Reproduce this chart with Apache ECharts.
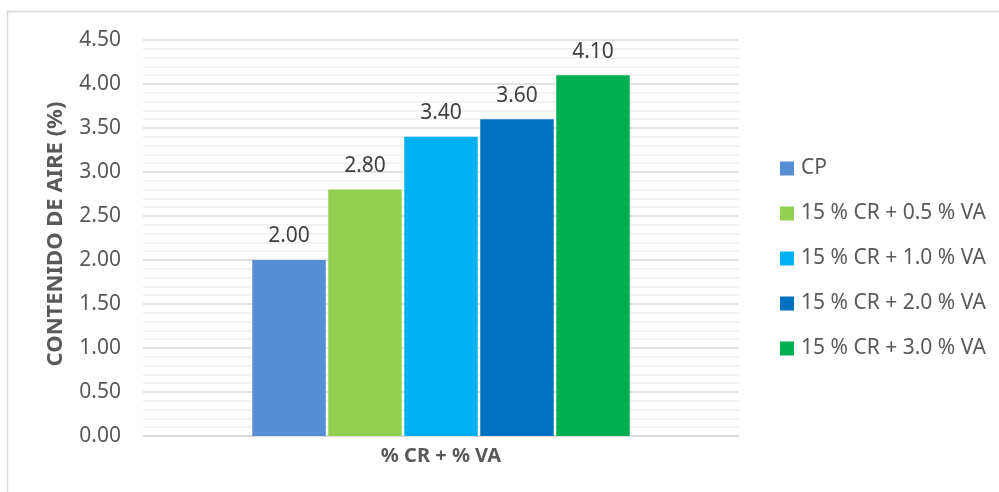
<!DOCTYPE html>
<html>
<head>
<meta charset="utf-8">
<script src="https://cdn.jsdelivr.net/npm/echarts@6/dist/echarts.min.js"></script>
<style>
  html, body { margin: 0; padding: 0; background: #ffffff; }
  #chart { width: 999px; height: 492px; }
</style>
</head>
<body>
<div id="chart"></div>
<script>
// Air content of each mix, one bar per mix inside a single category
const categories = ['% CR + % VA'];
const seriesNames = ['CP', '15 % CR + 0.5 % VA', '15 % CR + 1.0 % VA', '15 % CR + 2.0 % VA', '15 % CR + 3.0 % VA'];
const seriesValues = [2.00, 2.80, 3.40, 3.60, 4.10];
const seriesColors = ['#558ed5', '#92d050', '#00b0f0', '#0070c0', '#00b050'];
const yTicks = { min: 0, max: 4.5, interval: 0.5 };
const yAxisTitle = 'CONTENIDO DE AIRE (%)';

const FONT = '"Noto Sans", "Open Sans", sans-serif';

const series = seriesNames.map((name, i) => ({
  name: name,
  type: 'bar',
  data: [seriesValues[i]],
  barWidth: 73.5,
  barGap: '3.4%',
  itemStyle: { color: seriesColors[i] },
  label: {
    show: true,
    position: 'top',
    distance: 13,
    formatter: p => p.value.toFixed(2),
    color: '#404040',
    fontSize: 21,
    fontFamily: FONT
  }
}));

const chart = echarts.init(document.getElementById('chart'), null, { renderer: 'canvas' });
chart.setOption({
  animation: false,
  backgroundColor: '#ffffff',
  textStyle: { fontFamily: FONT },
  graphic: [{
    type: 'rect',
    shape: { x: 7.5, y: 11.5, width: 1100, height: 600 },
    style: { fill: 'none', stroke: '#d9d9d9', lineWidth: 1.5 },
    silent: true,
    z: -10
  }],
  grid: { left: 143, right: 260, top: 40, bottom: 56 },
  legend: {
    orient: 'vertical',
    left: 775,
    top: 153,
    itemWidth: 14,
    itemHeight: 14,
    itemGap: 24,
    icon: 'rect',
    data: seriesNames,
    textStyle: { color: '#595959', fontSize: 21, fontFamily: FONT, lineHeight: 21, padding: [0, 0, 0, 2] }
  },
  xAxis: {
    type: 'category',
    data: categories,
    axisLine: { show: true, lineStyle: { color: '#d9d9d9', width: 1.5 } },
    axisTick: { show: false },
    axisLabel: {
      show: true,
      margin: 10,
      color: '#595959',
      fontSize: 20,
      fontWeight: 'bold',
      fontFamily: FONT
    }
  },
  yAxis: {
    type: 'value',
    min: yTicks.min,
    max: yTicks.max,
    interval: yTicks.interval,
    name: yAxisTitle,
    nameLocation: 'middle',
    nameRotate: 90,
    nameGap: 76,
    nameTextStyle: { color: '#595959', fontSize: 22, fontWeight: 'bold', fontFamily: FONT, padding: [0, 0, 0, 8] },
    axisLine: { show: false },
    axisTick: { show: false },
    axisLabel: {
      margin: 22,
      color: '#595959',
      fontSize: 21,
      fontFamily: FONT,
      formatter: v => v.toFixed(2)
    },
    splitLine: { show: true, lineStyle: { color: '#d9d9d9', width: 1.5 } },
    minorTick: { show: false, splitNumber: 5 },
    minorSplitLine: { show: true, lineStyle: { color: '#f0f0f0', width: 1.5 } }
  },
  series: series
});
</script>
</body>
</html>
